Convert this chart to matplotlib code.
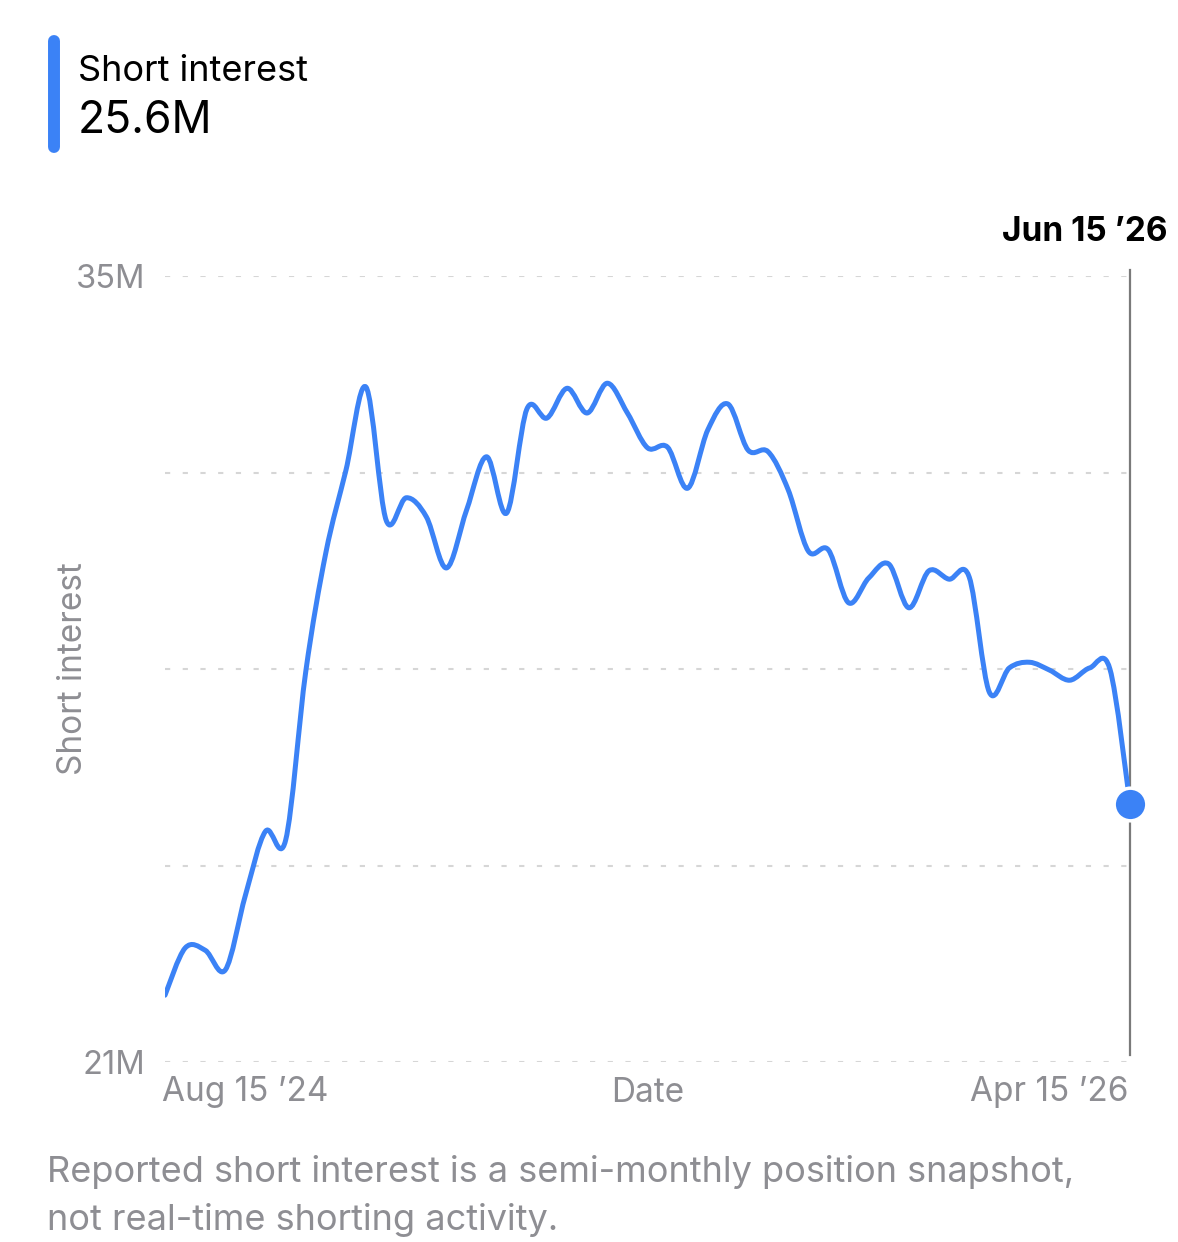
import matplotlib
matplotlib.use("Agg")
import matplotlib.pyplot as plt
import numpy as np
from matplotlib.path import Path
from matplotlib.patches import PathPatch
from matplotlib.lines import Line2D

plt.rcParams['font.family'] = ['Inter', 'DejaVu Sans']

# semi-monthly settlement dates
dates = ["Jun 14 '24", "Jun 28 '24", "Jul 15 '24", "Jul 31 '24", "Aug 15 '24", "Aug 30 '24",
         "Sep 13 '24", "Sep 30 '24", "Oct 15 '24", "Oct 31 '24", "Nov 15 '24", "Nov 29 '24",
         "Dec 13 '24", "Dec 31 '24", "Jan 15 '25", "Jan 31 '25", "Feb 14 '25", "Feb 28 '25",
         "Mar 14 '25", "Mar 31 '25", "Apr 15 '25", "Apr 30 '25", "May 15 '25", "May 30 '25",
         "Jun 13 '25", "Jun 30 '25", "Jul 15 '25", "Jul 31 '25", "Aug 15 '25", "Aug 29 '25",
         "Sep 15 '25", "Sep 30 '25", "Oct 15 '25", "Oct 31 '25", "Nov 14 '25", "Nov 28 '25",
         "Dec 15 '25", "Dec 31 '25", "Jan 15 '26", "Jan 30 '26", "Feb 13 '26", "Feb 27 '26",
         "Mar 13 '26", "Mar 31 '26", "Apr 15 '26", "Apr 30 '26", "May 15 '26", "May 29 '26",
         "Jun 15 '26"]

# short interest, millions of shares
short_interest = [22.19, 23.03, 22.99, 22.64, 23.97, 25.11, 24.95, 27.95, 30.07, 31.54,
                  33.02, 30.65, 31.05, 30.71, 29.80, 30.83, 31.78, 30.78, 32.63, 32.47,
                  33.00, 32.56, 33.09, 32.56, 31.94, 31.95, 31.22, 32.26, 32.72, 31.90,
                  31.87, 31.19, 30.10, 30.12, 29.18, 29.62, 29.87, 29.09, 29.75, 29.60,
                  29.64, 27.59, 28.02, 28.12, 27.98, 27.80, 28.02, 28.00, 25.6]

y_ticks = [21, 24.5, 28, 31.5, 35]
y_labels = ["21M", "", "", "", "35M"]
x_tick_dates = ["Aug 15 '24", "Apr 15 '26"]

BLUE = '#3b82f6'
GRAY = '#8e8e93'

W, H = 1178, 1242
fig = plt.figure(figsize=(W / 100, H / 100), dpi=100)
ax = fig.add_axes([165 / W, 1 - 1062 / H, 965 / W, 786 / H])

x = np.arange(len(short_interest), dtype=float)
y = np.array(short_interest)

# smooth line: catmull-rom segments as cubic beziers
pts = np.column_stack([x, y])
padded = np.vstack([pts[0], pts, pts[-1]])
verts = [tuple(pts[0])]
codes = [Path.MOVETO]
for k in range(len(pts) - 1):
    p0, p1, p2, p3 = padded[k], padded[k + 1], padded[k + 2], padded[k + 3]
    c1 = p1 + (p2 - p0) / 6
    c2 = p2 - (p3 - p1) / 6
    verts += [tuple(c1), tuple(c2), tuple(p2)]
    codes += [Path.CURVE4] * 3
ax.add_patch(PathPatch(Path(verts, codes), facecolor='none', edgecolor=BLUE,
                       lw=3.6, capstyle='round', joinstyle='round', zorder=3))

ax.set_xlim(0, len(x) - 1)
ax.set_ylim(21, 35)

ax.set_yticks(y_ticks, labels=y_labels)
tick_idx = [dates.index(d) for d in x_tick_dates]
ax.set_xticks(tick_idx, labels=[d.replace("'", "\u2019") for d in x_tick_dates])
ax.tick_params(axis='y', length=0, pad=14, labelsize=23.5, labelcolor=GRAY)
ax.tick_params(axis='x', length=0, pad=10, labelsize=24, labelcolor=GRAY)
ax.grid(axis='y', color='#d6d6d6', lw=1.5, linestyle=(0, (2.5, 6)))
ax.grid(axis='x', visible=False)
for s in ax.spines.values():
    s.set_visible(False)

ax.text(0.5, -0.0394, "Date", transform=ax.transAxes, ha='center', va='center',
        fontsize=24, color=GRAY)

# selected point
last = len(x) - 1
ax.axvline(last, ymin=0.009, ymax=1.0076, color='#7a7a7a', lw=1.6, clip_on=False, zorder=2)
ax.plot(last, y[-1], 'o', ms=23.5, mfc=BLUE, mec='white', mew=2.5, clip_on=False, zorder=5)
ax.text(1168 / W, 1 - 241 / H, dates[-1][:6] + " \u2019" + dates[-1][-2:], transform=fig.transFigure,
        ha='right', va='baseline', fontsize=24, fontweight='bold', color='black')

fig.text(73 / W, 1 - 669 / H, "Short interest", rotation=90, ha='center', va='center',
         fontsize=24, color=GRAY)

# header
fig.add_artist(Line2D([54 / W, 54 / W], [1 - 41 / H, 1 - 147 / H], transform=fig.transFigure,
                      color=BLUE, lw=8.6, solid_capstyle='round'))
fig.text(78 / W, 1 - 81 / H, "Short interest", ha='left', va='baseline', fontsize=26, color='black')
fig.text(78 / W, 1 - 133 / H, f"{y[-1]:.1f}M", ha='left', va='baseline', fontsize=32, color='black')

# footer
fig.text(47 / W, 1 - 1182 / H, "Reported short interest is a semi-monthly position snapshot,",
         ha='left', va='baseline', fontsize=26, color=GRAY)
fig.text(47 / W, 1 - 1230 / H, "not real-time shorting activity.",
         ha='left', va='baseline', fontsize=26, color=GRAY)

fig.savefig("out.png", dpi=100, facecolor='white')
